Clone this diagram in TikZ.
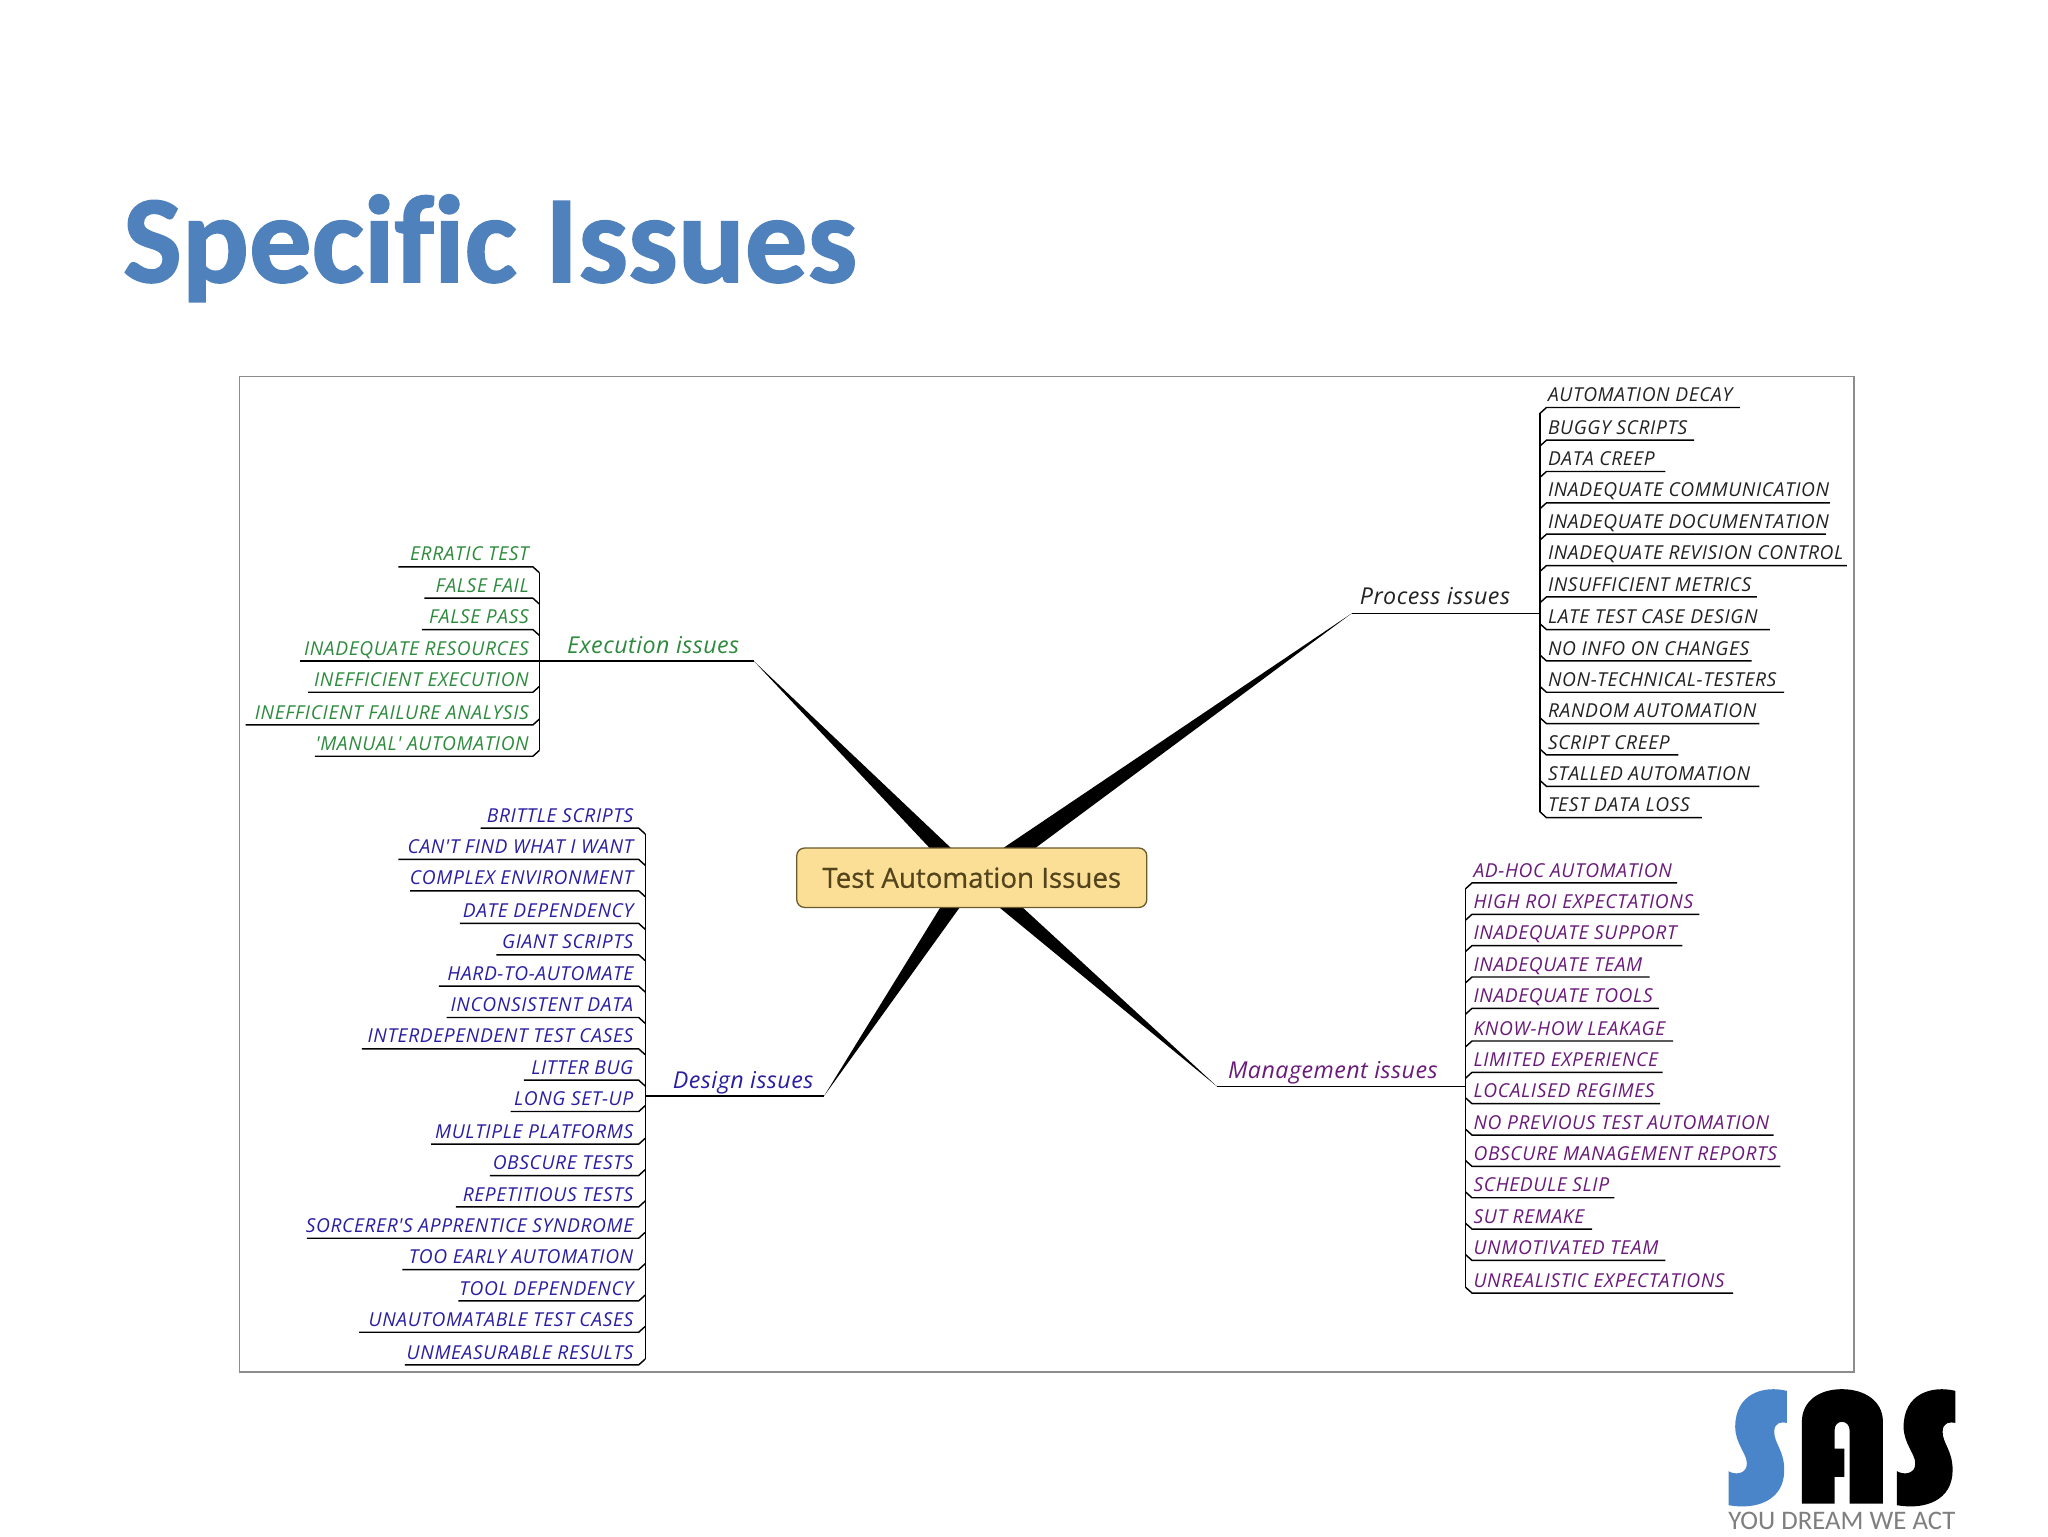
\documentclass[tikz,border=0pt]{standalone}
\usepackage{fontspec}
\setmainfont{Open Sans}
\newfontfamily\titlefont[Ligatures=NoCommon,BoldFeatures={FakeBold=1.3}]{Carlito}
\newfontfamily\tagfont{Carlito}
\newfontfamily\itemfont[LetterSpace=3.2]{Open Sans}
\newfontfamily\labelfont[LetterSpace=2]{Open Sans}
\newfontfamily\rootfont[FakeBold=0.6]{Open Sans}
\definecolor{titleblue}{HTML}{4F81BD}
\definecolor{logoblue}{HTML}{4A85C9}
\definecolor{execcol}{HTML}{2E8B3E}
\definecolor{designcol}{HTML}{2A1FA0}
\definecolor{mgmtcol}{HTML}{6A1B7A}
\definecolor{proccol}{HTML}{222222}
\definecolor{boxfill}{HTML}{FBDF97}
\definecolor{boxedge}{HTML}{6B5A2A}
\definecolor{boxtext}{HTML}{54441C}
\definecolor{framegrey}{HTML}{8C8C8C}
\definecolor{taggrey}{HTML}{7F7F7F}
\tikzset{
  item/.style={inner sep=0pt,font=\itemfont\itshape\fontsize{14.7}{16}\selectfont},
  branchlabel/.style={inner sep=0pt,font=\labelfont\itshape\fontsize{17.8}{20}\selectfont},
  conn/.style={draw=black,line width=1.1pt},
  wedge/.style={fill=black,draw=none},
  rootbox/.style={draw=boxedge,fill=boxfill,rounded corners=6pt,line width=1pt,minimum width=268pt,minimum height=45.5pt,inner sep=0pt,text=boxtext,font=\rootfont\fontsize{21.2}{24}\selectfont},
}
% right-aligned row: colour, text right edge, vertical x, sign, name, y, left end, text
\newcommand\rowL[8]{%
  \node[item,text=#1,anchor=base east] (#5) at (#2,#6+5.5) {#8};
  \coordinate (#5-a) at (#7,#6+10);
  \coordinate (#5-b) at (#3-5,#6+10);
  \coordinate (#5-c) at (#3,#6+10+#4*4.5);
  \draw[conn] (#5-a) -- (#5-b) -- (#5-c);
}
\newcommand\rowR[8]{%
  \node[item,text=#1,anchor=base west] (#5) at (#2,#6+5.5) {#8};
  \coordinate (#5-a) at (#7,#6+10);
  \coordinate (#5-b) at (#3+5,#6+10);
  \coordinate (#5-c) at (#3,#6+10+#4*4.5);
  \draw[conn] (#5-a) -- (#5-b) -- (#5-c);
}
\begin{document}
\begin{tikzpicture}[x=1pt,y=-1pt]
\useasboundingbox (0,0) rectangle (1568,1176);
\fill[white] (0,0) rectangle (1568,1176);
\node[anchor=base west,inner sep=0pt,text=titleblue,font=\titlefont\bfseries\fontsize{95.5}{100}\selectfont] (title) at (94,216) {Specific Issues};
\node[draw=framegrey,line width=1pt,minimum width=1236pt,minimum height=762pt,inner sep=0pt,anchor=north west] (frame) at (183,288) {};
% hub
\coordinate (c) at (744,672);
\coordinate (extip) at (577,506);
\coordinate (prtip) at (1035,469.5);
\coordinate (detip) at (631,839);
\coordinate (matip) at (932,832);
\fill[wedge] (extip) -- (712,649.5) -- (731,652) -- cycle;
\fill[wedge] (prtip) -- (767,650) -- (789,652) -- cycle;
\fill[wedge] (detip) -- (721,693) -- (736,693) -- cycle;
\fill[wedge] (matip) -- (763,693) -- (781,693) -- cycle;
\node[rootbox] (root) at (c) {Test Automation Issues};
% Execution
\node[branchlabel,text=execcol,anchor=base west] (exec) at (434,500) {Execution issues};
\coordinate (exv) at (413,506);
\draw[conn] (extip) -- (exv);
\draw[conn] (413,438.5) -- (413,574.5);
\foreach \n/\y/\l/\s/\t in {
 e1/424/305/1/ERRATIC TEST,
 e2/448/325/1/FALSE FAIL,
 e3/472/323/1/FALSE PASS,
 e4/496/230/0/INADEQUATE RESOURCES,
 e5/520/236/-1/INEFFICIENT EXECUTION,
 e6/545/188/-1/INEFFICIENT FAILURE ANALYSIS,
 e7/569/241/-1/'MANUAL' AUTOMATION}
 {\rowL{execcol}{405}{413}{\s}{\n}{\y}{\l}{\t}}
% Process
\node[branchlabel,text=proccol,anchor=base west] (proc) at (1041,463) {Process issues};
\coordinate (prv) at (1179,469.5);
\draw[conn] (prtip) -- (prv);
\draw[conn] (1179,316.5) -- (1179,621.5);
\foreach \n/\y/\r/\s/\t in {
 p1/302/1332/1/AUTOMATION DECAY,
 p2/327/1297/1/BUGGY SCRIPTS,
 p3/351/1275/1/DATA CREEP,
 p4/375/1401/1/INADEQUATE COMMUNICATION,
 p5/399/1398/1/INADEQUATE DOCUMENTATION,
 p6/423/1414/1/INADEQUATE REVISION CONTROL,
 p7/447/1345/1/INSUFFICIENT METRICS,
 p8/472/1355/-1/LATE TEST CASE DESIGN,
 p9/496/1341/-1/NO INFO ON CHANGES,
 p10/520/1366/-1/NON-TECHNICAL-TESTERS,
 p11/544/1347/-1/RANDOM AUTOMATION,
 p12/568/1285/-1/SCRIPT CREEP,
 p13/592/1347/-1/STALLED AUTOMATION,
 p14/616/1303/-1/TEST DATA LOSS}
 {\rowR{proccol}{1185}{1179}{\s}{\n}{\y}{\r}{\t}}
% Design
\node[branchlabel,text=designcol,anchor=base west] (des) at (515,833) {Design issues};
\coordinate (dev) at (494,839);
\draw[conn] (detip) -- (dev);
\draw[conn] (494,638.5) -- (494,1040.5);
\foreach \n/\y/\l/\s/\t in {
 d1/624/368/1/BRITTLE SCRIPTS,
 d2/648/305/1/CAN'T FIND WHAT I WANT,
 d3/672/314/1/COMPLEX ENVIRONMENT,
 d4/697/352/1/DATE DEPENDENCY,
 d5/721/380/1/GIANT SCRIPTS,
 d6/745/336/1/HARD-TO-AUTOMATE,
 d7/769/342/1/INCONSISTENT DATA,
 d8/793/277/1/INTERDEPENDENT TEST CASES,
 d9/817/401/1/LITTER BUG,
 d10/841/391/-1/LONG SET-UP,
 d11/866/330/-1/MULTIPLE PLATFORMS,
 d12/890/375/-1/OBSCURE TESTS,
 d13/914/349/-1/REPETITIOUS TESTS,
 d14/938/235/-1/SORCERER'S APPRENTICE SYNDROME,
 d15/962/308/-1/TOO EARLY AUTOMATION,
 d16/986/351/-1/TOOL DEPENDENCY,
 d17/1010/275/-1/UNAUTOMATABLE TEST CASES,
 d18/1035/310/-1/UNMEASURABLE RESULTS}
 {\rowL{designcol}{485}{494}{\s}{\n}{\y}{\l}{\t}}
% Management
\node[branchlabel,text=mgmtcol,anchor=base west] (mgmt) at (940,826) {Management issues};
\coordinate (mav) at (1122,832);
\draw[conn] (matip) -- (mav);
\draw[conn] (1122,680.5) -- (1122,985.5);
\foreach \n/\y/\r/\s/\t in {
 m1/666/1284/1/AD-HOC AUTOMATION,
 m2/690/1301/1/HIGH ROI EXPECTATIONS,
 m3/714/1288/1/INADEQUATE SUPPORT,
 m4/738/1263/1/INADEQUATE TEAM,
 m5/762/1270/1/INADEQUATE TOOLS,
 m6/787/1281/1/KNOW-HOW LEAKAGE,
 m7/811/1273/1/LIMITED EXPERIENCE,
 m8/835/1271/-1/LOCALISED REGIMES,
 m9/859/1358/-1/NO PREVIOUS TEST AUTOMATION,
 m10/883/1363/-1/OBSCURE MANAGEMENT REPORTS,
 m11/907/1236/-1/SCHEDULE SLIP,
 m12/931/1219/-1/SUT REMAKE,
 m13/955/1275/-1/UNMOTIVATED TEAM,
 m14/980/1327/-1/UNREALISTIC EXPECTATIONS}
 {\rowR{mgmtcol}{1128}{1122}{\s}{\n}{\y}{\r}{\t}}
% Logo
\begin{scope}[shift={(1301.7,1033.7)},scale=0.2553]
\fill[logoblue] (260,122) .. controls (190,105) and (105,130) .. (105,230) .. controls (105,280) and (140,310) .. (140,340) .. controls (140,372) and (105,375) .. (85,363) -- (85,465) .. controls (170,480) and (252,450) .. (252,360) .. controls (252,300) and (222,280) .. (222,245) .. controls (222,215) and (245,215) .. (260,218) -- cycle;
\fill[black] (765,122) .. controls (695,105) and (610,130) .. (610,230) .. controls (610,280) and (645,310) .. (645,340) .. controls (645,372) and (610,375) .. (590,363) -- (590,465) .. controls (675,480) and (757,450) .. (757,360) .. controls (757,300) and (727,280) .. (727,245) .. controls (727,215) and (750,215) .. (765,218) -- cycle;
\fill[black] (305,460) -- (305,215) .. controls (305,150) and (360,117) .. (425,117) .. controls (490,117) and (548,150) .. (548,215) -- (548,460) -- (448,460) -- (448,240) .. controls (448,225) and (438,215) .. (425,215) .. controls (412,215) and (403,225) .. (403,240) -- (403,295) -- (432,295) -- (432,380) -- (403,380) -- (403,460) -- cycle;
\end{scope}
\node[anchor=base west,inner sep=0pt,text=taggrey,font=\tagfont\fontsize{20.5}{24}\selectfont] (tag) at (1323,1171) {YOU DREAM WE ACT};
\end{tikzpicture}
\end{document}
